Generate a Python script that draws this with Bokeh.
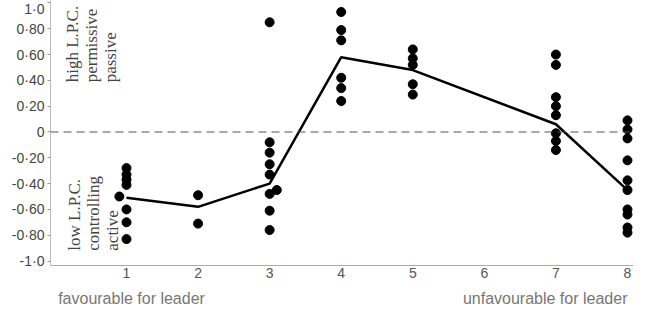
import math
from bokeh.plotting import figure
from bokeh.models import FixedTicker, LinearAxis, Span, Label, Range1d
from bokeh.embed import file_html
from bokeh.resources import INLINE

# ---- data ----
situations = [1, 2, 3, 4, 5, 6, 7, 8]
xtick_labels = ["1", "2", "3", "4", "5", "6", "7", "8"]

mean_x = [1, 2, 3, 4, 5, 7, 8]
mean_y = [-0.51, -0.58, -0.40, 0.58, 0.48, 0.06, -0.45]

pt1_y = [-0.28, -0.33, -0.37, -0.41, -0.60, -0.70, -0.83]
pt1b_y = [-0.50]
pt2_y = [-0.49, -0.71]
pt3_y = [0.85, -0.08, -0.16, -0.25, -0.33, -0.48, -0.61, -0.76]
pt3b_y = [-0.45]
pt4_y = [0.93, 0.79, 0.71, 0.42, 0.34, 0.24]
pt5_y = [0.64, 0.57, 0.52, 0.37, 0.29]
pt7_y = [0.60, 0.52, 0.27, 0.20, 0.13, -0.01, -0.07, -0.14]
pt8_y = [0.09, 0.02, -0.05, -0.22, -0.375, -0.45, -0.60, -0.64, -0.74, -0.78]

point_groups = [
    (1.0, pt1_y), (0.9, pt1b_y), (2.0, pt2_y), (3.0, pt3_y), (3.1, pt3b_y),
    (4.0, pt4_y), (5.0, pt5_y), (7.0, pt7_y), (8.0, pt8_y),
]

ytick_values = [1.0, 0.8, 0.6, 0.4, 0.2, 0.0, -0.2, -0.4, -0.6, -0.8, -1.0]
ytick_labels = ["1·0", "0·80", "0·60", "0·40", "0·20", "0",
                "-0·20", "-0·40", "-0·60", "-0·80", "-1·0"]

end_labels = ["favourable for leader", "unfavourable for leader"]
end_label_pos = [1.07, 6.85]

high_lines = ["high L.P.C.", "permissive", "passive"]
low_lines = ["low L.P.C.", "controlling", "active"]

# ---- layout constants (data units) ----
Y_TOP, Y_BOTTOM = 1.019, -1.368
X_AXIS_AT = -1.035
END_LABEL_Y = -1.29

# ---- figure ----
p = figure(width=633, height=308, output_backend="svg", toolbar_location=None,
           x_range=Range1d(-0.062, 8.084), y_range=Range1d(Y_BOTTOM, Y_TOP),
           min_border_left=50, min_border_right=0, min_border_top=0,
           min_border_bottom=0, x_axis_location=None, y_axis_location=None)
p.outline_line_color = None
p.xgrid.visible = False
p.ygrid.visible = False
p.background_fill_color = "white"
p.border_fill_color = "white"

# y axis
yax = LinearAxis(ticker=FixedTicker(ticks=ytick_values),
                 major_label_overrides=dict(zip(ytick_values, ytick_labels)),
                 bounds=(X_AXIS_AT, Y_TOP))
yax.axis_line_color = "#bbbbbb"
yax.major_tick_line_color = "#999999"
yax.major_tick_out = 3
yax.major_tick_in = 0
yax.minor_tick_line_color = None
yax.major_label_text_font = "Liberation Sans"
yax.major_label_text_font_size = "14px"
yax.major_label_text_color = "#444444"
yax.major_label_standoff = 3
p.add_layout(yax, "left")

# x axis, drawn at the bottom of the value area
xax = LinearAxis(ticker=FixedTicker(ticks=situations),
                 major_label_overrides=dict(zip(situations, xtick_labels)),
                 fixed_location=X_AXIS_AT)
xax.axis_line_color = "#aaaaaa"
xax.major_tick_line_color = None
xax.major_tick_out = 0
xax.major_tick_in = 0
xax.minor_tick_line_color = None
xax.major_label_text_font = "Liberation Sans"
xax.major_label_text_font_size = "14px"
xax.major_label_text_color = "#555555"
xax.major_label_standoff = 2
p.add_layout(xax, "below")

# end labels under the axis
for lx, lt in zip(end_label_pos, end_labels):
    p.add_layout(Label(x=lx, y=END_LABEL_Y, text=lt,
                       text_align="center", text_baseline="middle",
                       text_font="Liberation Sans", text_font_size="16px",
                       text_color="#777777"))

# zero line
p.add_layout(Span(location=0, dimension="width", line_color="#555555",
                  line_width=1.2, line_dash="8 5"))

# points
for gx, gy in point_groups:
    p.scatter(x=[gx] * len(gy), y=gy, size=9, color="black")

# mean line
p.line(mean_x, mean_y, line_color="black", line_width=2.5)

# rotated side labels
for i, t in enumerate(high_lines):
    p.add_layout(Label(x=0.25 + i * 0.265, y=0.385, text=t, angle=math.pi / 2,
                       text_align="left", text_baseline="middle",
                       text_font="Liberation Serif", text_font_size="17px",
                       text_color="#444444"))
for i, t in enumerate(low_lines):
    p.add_layout(Label(x=0.28 + i * 0.265, y=-0.92, text=t, angle=math.pi / 2,
                       text_align="left", text_baseline="middle",
                       text_font="Liberation Serif", text_font_size="17px",
                       text_color="#444444"))

open("out.html", "w").write(file_html(p, INLINE))
